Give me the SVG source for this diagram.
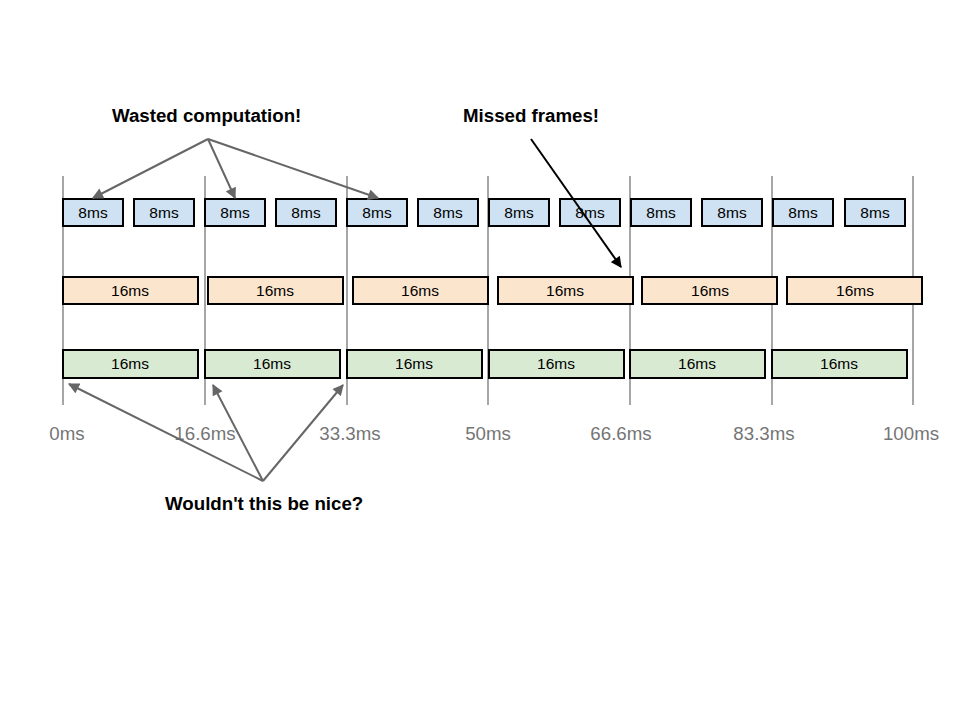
<svg xmlns="http://www.w3.org/2000/svg" width="960" height="720" viewBox="0 0 960 720">
  <style>
    .grid { stroke: #a6a6a6; stroke-width: 2; }
    .box rect { stroke: #000; stroke-width: 2; }
    .b8 rect { fill: #cfe2f3; }
    .b16o rect { fill: #fce5cd; }
    .b16g rect { fill: #d9ead3; }
    .box text { font-family: "Liberation Sans", Arial, sans-serif; font-size: 15.5px; fill: #000; text-anchor: middle; }
    .tick { font-family: "Liberation Sans", Arial, sans-serif; font-size: 18.7px; fill: #757575; text-anchor: middle; }
    .title { font-family: "Liberation Sans", Arial, sans-serif; font-size: 18.7px; font-weight: bold; fill: #000; }
    .gray { stroke: #666; stroke-width: 2; fill: none; marker-end: url(#ag); }
    .black { stroke: #000; stroke-width: 2; fill: none; marker-end: url(#ab); }
  </style>
  <defs>
    <marker id="ag" viewBox="0 0 10 10" refX="9" refY="5" markerWidth="6" markerHeight="5.5" orient="auto" markerUnits="strokeWidth">
      <path d="M0,0 L10,5 L0,10 z" fill="#666"/>
    </marker>
    <marker id="ab" viewBox="0 0 10 10" refX="9" refY="5" markerWidth="6" markerHeight="5.5" orient="auto" markerUnits="strokeWidth">
      <path d="M0,0 L10,5 L0,10 z" fill="#000"/>
    </marker>
  </defs>
  <rect width="960" height="720" fill="#fff"/>

  <!-- frame boundaries -->
  <g id="gridlines">
    <line class="grid" x1="63" y1="176" x2="63" y2="405"/>
    <line class="grid" x1="205" y1="176" x2="205" y2="405"/>
    <line class="grid" x1="347" y1="176" x2="347" y2="405"/>
    <line class="grid" x1="488" y1="176" x2="488" y2="405"/>
    <line class="grid" x1="630" y1="176" x2="630" y2="405"/>
    <line class="grid" x1="772" y1="176" x2="772" y2="405"/>
    <line class="grid" x1="913" y1="176" x2="913" y2="405"/>
  </g>

  <!-- 8ms row -->
  <g id="row8">
    <g id="b8-1" class="box b8"><rect x="63" y="199" width="60" height="27"/><text x="93" y="218">8ms</text></g>
    <g id="b8-2" class="box b8"><rect x="134" y="199" width="60" height="27"/><text x="164" y="218">8ms</text></g>
    <g id="b8-3" class="box b8"><rect x="205" y="199" width="60" height="27"/><text x="235" y="218">8ms</text></g>
    <g id="b8-4" class="box b8"><rect x="276" y="199" width="60" height="27"/><text x="306" y="218">8ms</text></g>
    <g id="b8-5" class="box b8"><rect x="347" y="199" width="60" height="27"/><text x="377" y="218">8ms</text></g>
    <g id="b8-6" class="box b8"><rect x="418" y="199" width="60" height="27"/><text x="448" y="218">8ms</text></g>
    <g id="b8-7" class="box b8"><rect x="489" y="199" width="60" height="27"/><text x="519" y="218">8ms</text></g>
    <g id="b8-8" class="box b8"><rect x="560" y="199" width="60" height="27"/><text x="590" y="218">8ms</text></g>
    <g id="b8-9" class="box b8"><rect x="631" y="199" width="60" height="27"/><text x="661" y="218">8ms</text></g>
    <g id="b8-10" class="box b8"><rect x="702" y="199" width="60" height="27"/><text x="732" y="218">8ms</text></g>
    <g id="b8-11" class="box b8"><rect x="773" y="199" width="60" height="27"/><text x="803" y="218">8ms</text></g>
    <g id="b8-12" class="box b8"><rect x="845" y="199" width="60" height="27"/><text x="875" y="218">8ms</text></g>
  </g>

  <!-- 16ms row, drifting -->
  <g id="row16a">
    <g id="o1" class="box b16o"><rect x="63" y="277" width="135" height="27"/><text x="130" y="296">16ms</text></g>
    <g id="o2" class="box b16o"><rect x="208" y="277" width="135" height="27"/><text x="275" y="296">16ms</text></g>
    <g id="o3" class="box b16o"><rect x="353" y="277" width="135" height="27"/><text x="420" y="296">16ms</text></g>
    <g id="o4" class="box b16o"><rect x="498" y="277" width="135" height="27"/><text x="565" y="296">16ms</text></g>
    <g id="o5" class="box b16o"><rect x="642" y="277" width="135" height="27"/><text x="710" y="296">16ms</text></g>
    <g id="o6" class="box b16o"><rect x="787" y="277" width="135" height="27"/><text x="855" y="296">16ms</text></g>
  </g>

  <!-- 16ms row, aligned -->
  <g id="row16b">
    <g id="g1" class="box b16g"><rect x="63" y="350" width="135" height="28"/><text x="130" y="369">16ms</text></g>
    <g id="g2" class="box b16g"><rect x="205" y="350" width="135" height="28"/><text x="272" y="369">16ms</text></g>
    <g id="g3" class="box b16g"><rect x="347" y="350" width="135" height="28"/><text x="414" y="369">16ms</text></g>
    <g id="g4" class="box b16g"><rect x="489" y="350" width="135" height="28"/><text x="556" y="369">16ms</text></g>
    <g id="g5" class="box b16g"><rect x="630" y="350" width="135" height="28"/><text x="697" y="369">16ms</text></g>
    <g id="g6" class="box b16g"><rect x="772" y="350" width="135" height="28"/><text x="839" y="369">16ms</text></g>
  </g>

  <!-- time axis -->
  <g id="ticks">
    <text class="tick" x="67" y="440">0ms</text>
    <text class="tick" x="205" y="440">16.6ms</text>
    <text class="tick" x="350" y="440">33.3ms</text>
    <text class="tick" x="488" y="440">50ms</text>
    <text class="tick" x="621" y="440">66.6ms</text>
    <text class="tick" x="764" y="440">83.3ms</text>
    <text class="tick" x="911" y="440">100ms</text>
  </g>

  <!-- callouts -->
  <g id="label-wasted"><text class="title" x="112" y="122">Wasted computation!</text></g>
  <g id="label-missed"><text class="title" x="463" y="122">Missed frames!</text></g>
  <g id="label-nice"><text class="title" x="165" y="510">Wouldn't this be nice?</text></g>

  <g id="connectors">
    <line class="gray" x1="208" y1="139" x2="93" y2="198"/>
    <line class="gray" x1="208" y1="139" x2="235" y2="198"/>
    <line class="gray" x1="208" y1="139" x2="378" y2="198"/>
    <line class="black" x1="531" y1="139" x2="621" y2="267"/>
    <line class="gray" x1="263" y1="481" x2="69" y2="384"/>
    <line class="gray" x1="263" y1="481" x2="213" y2="385"/>
    <line class="gray" x1="263" y1="481" x2="343" y2="385"/>
  </g>
</svg>
